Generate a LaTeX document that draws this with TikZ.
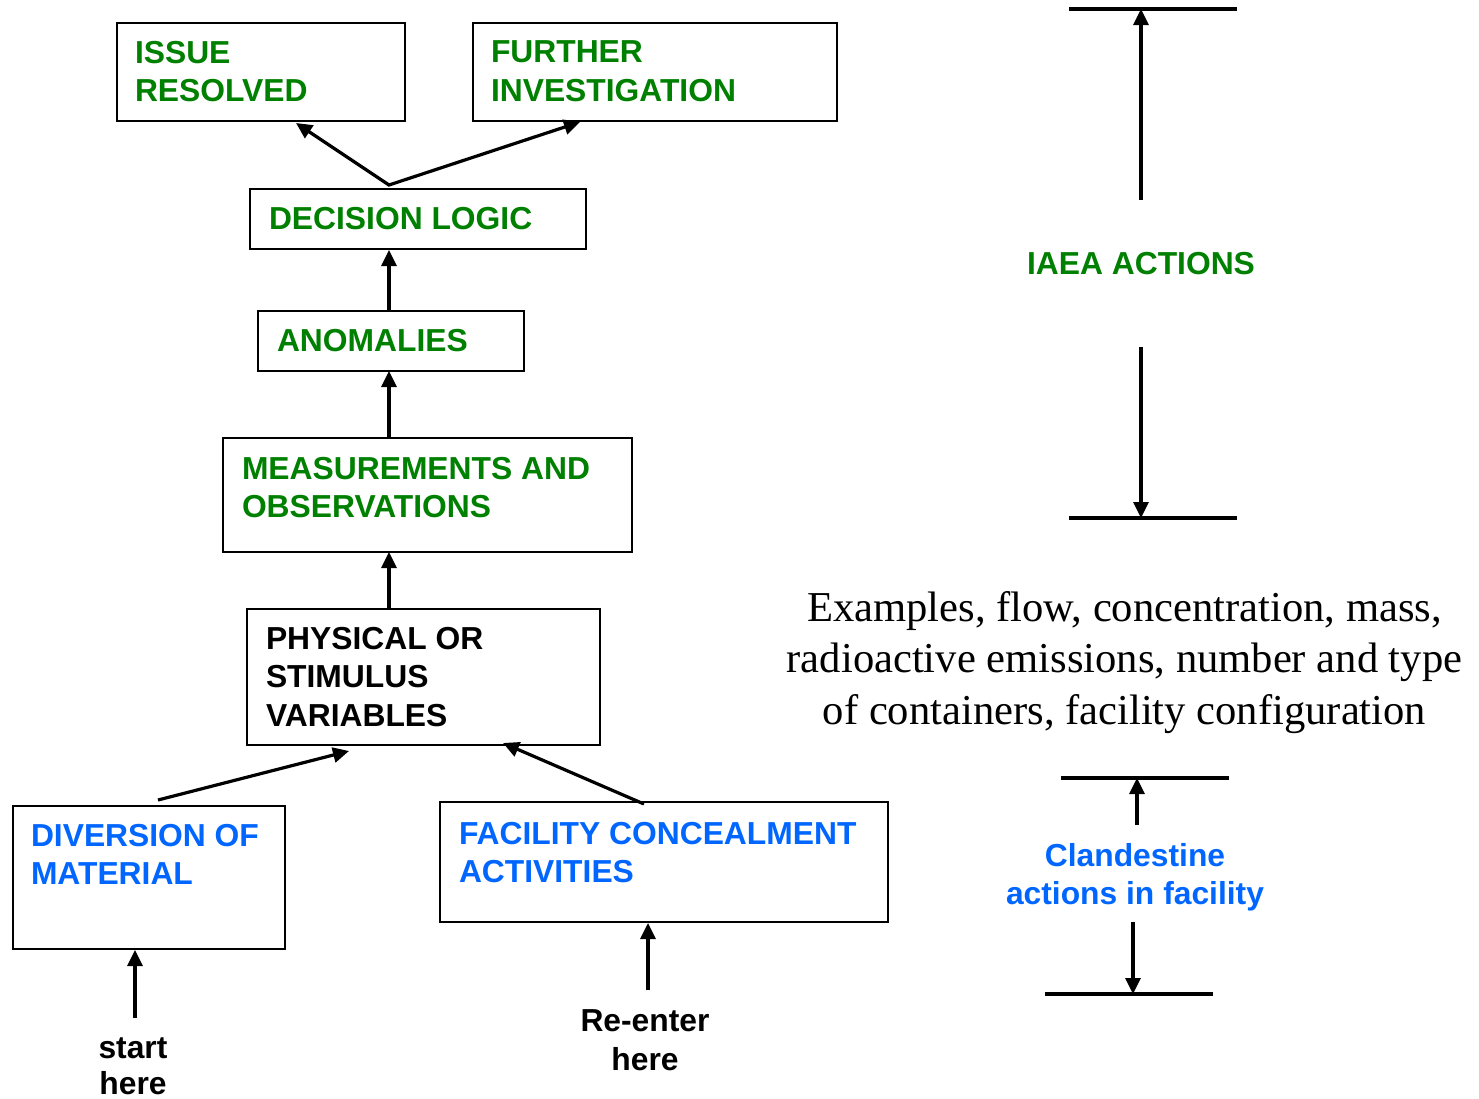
\documentclass[tikz,border=0pt]{standalone}
\usepackage{fontspec}
\setmainfont{Liberation Serif}
\newfontfamily\arialfont{Liberation Sans}
\usetikzlibrary{arrows.meta,calc}
\definecolor{iaeagreen}{RGB}{0,128,0}
\definecolor{actblue}{RGB}{0,102,255}
\begin{document}
\begin{tikzpicture}[x=1pt,y=-1pt,
  box/.style={draw=black, line width=1.6pt, rectangle, inner sep=0pt, outer sep=0pt, anchor=north west},
  lbl/.style={font=\arialfont\bfseries\fontsize{31.8}{38.5}\selectfont, inner sep=0pt, outer sep=0pt, align=left, anchor=north west},
  clbl/.style={lbl, align=center, anchor=north},
  arr/.style={line width=3.2pt, -{Triangle[length=16pt,width=15pt]}},
  arrboth/.style={line width=3.2pt, line join=miter, {Triangle[length=16pt,width=15pt]}-{Triangle[length=16pt,width=15pt]}},
  bar/.style={line width=4pt},
]
\useasboundingbox (0,0) rectangle (1479,1098);

% boxes of the flow chain
\node[box, minimum width=288pt, minimum height=98pt]  (ir) at (117,23)  {};
\node[box, minimum width=364pt, minimum height=98pt]  (fi) at (473,23)  {};
\node[box, minimum width=336pt, minimum height=60pt]  (dl) at (250,189) {};
\node[box, minimum width=266pt, minimum height=60pt]  (an) at (258,311) {};
\node[box, minimum width=409pt, minimum height=114pt] (mo) at (223,438) {};
\node[box, minimum width=353pt, minimum height=136pt] (ps) at (247,609) {};
\node[box, minimum width=272pt, minimum height=143pt] (dm) at (13,806)  {};
\node[box, minimum width=448pt, minimum height=120pt] (fc) at (440,802) {};

% box labels
\node[lbl, text=iaeagreen] (irt) at (135,41)  {ISSUE\\RESOLVED};
\node[lbl, text=iaeagreen] (fit) at (491,41)  {FURTHER\\INVESTIGATION};
\node[lbl, text=iaeagreen] (dlt) at (269,207) {DECISION LOGIC};
\node[lbl, text=iaeagreen] (ant) at (277,329) {ANOMALIES};
\node[lbl, text=iaeagreen] (mot) at (242,457) {MEASUREMENTS AND\\OBSERVATIONS};
\node[lbl, text=black]     (pst) at (266,627) {PHYSICAL OR\\STIMULUS\\VARIABLES};
\node[lbl, text=actblue]   (dmt) at (31,824)  {DIVERSION OF\\MATERIAL};
\node[lbl, text=actblue]   (fct) at (459,822) {FACILITY CONCEALMENT\\ACTIVITIES};

% entry labels
\node[clbl, font=\arialfont\bfseries\fontsize{31.8}{35.5}\selectfont] (st) at (133,1038) {start\\here};
\node[clbl] (re) at (645,1010) {Re-enter\\here};

% right-hand annotations
\node[clbl, text=iaeagreen] (iaea) at (1141,252) {IAEA ACTIONS};
\node[clbl, text=actblue]   (cl)   at (1135,843) {Clandestine\\actions in facility};
\node[inner sep=0pt, outer sep=0pt, anchor=north, align=center,
      font=\fontsize{42.6}{51.5}\selectfont] (ex) at (1124.5,591)
  {Examples, flow, concentration, mass,\\radioactive emissions, number and type\\of containers, facility configuration};

% connectors of the chain
\coordinate (fork) at ($(dl.north west)+(139,-4)$);
\draw[arrboth] ($(ir.south west)+(179,2)$) -- (fork) -- ($(fi.south west)+(107,1)$);
\draw[arr] ($(an.north west)+(131,0)$) -- ($(dl.south west)+(139,1)$);
\draw[arr] ($(mo.north west)+(166,0)$) -- ($(an.south west)+(131,0)$);
\draw[arr] ($(ps.north west)+(142,0)$) -- ($(mo.south west)+(166,0)$);
\draw[arr] ($(dm.north west)+(145,-6)$) -- ($(ps.south west)+(102,6)$);
\draw[arr] ($(fc.north west)+(204,2)$) -- ($(ps.south west)+(256,-2)$);
\draw[arr] ($(st.north)+(2,-20)$) -- ($(dm.south west)+(122,1)$);
\draw[arr] ($(re.north)+(3,-20)$) -- ($(fc.south west)+(208,1)$);

% IAEA actions span
\coordinate (t1) at (1141,9);
\coordinate (t2) at (1141,518);
\draw[bar] ($(t1)+(-72,0)$) -- ($(t1)+(96,0)$);
\draw[bar] ($(t2)+(-72,0)$) -- ($(t2)+(96,0)$);
\draw[arr] ($(iaea.north)+(0,-52)$) -- (t1);
\draw[arr] ($(iaea.south)+(0,72)$) -- (t2);

% clandestine actions span
\coordinate (c1) at (1137,778);
\coordinate (c2) at (1133,994);
\draw[bar] ($(c1)+(-76,0)$) -- ($(c1)+(92,0)$);
\draw[bar] ($(c2)+(-88,0)$) -- ($(c2)+(80,0)$);
\draw[arr] ($(cl.north)+(2,-18)$) -- (c1);
\draw[arr] ($(cl.south)+(-2,11)$) -- (c2);
\end{tikzpicture}
\end{document}
